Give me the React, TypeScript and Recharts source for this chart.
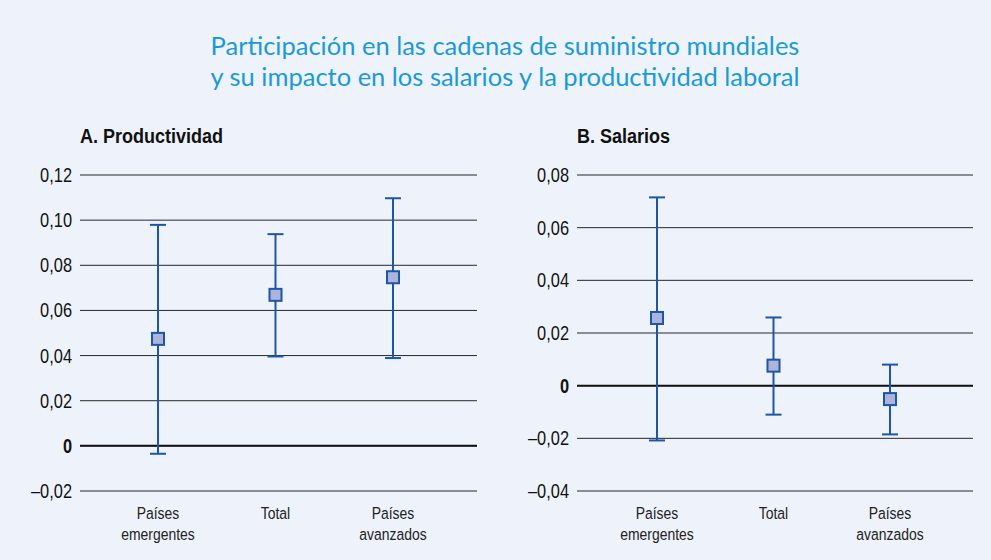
import React from "react";
import {
  CartesianGrid,
  ComposedChart,
  ErrorBar,
  ReferenceLine,
  Scatter,
  XAxis,
  YAxis,
} from "recharts";

const categorias = ["Países\nemergentes", "Total", "Países\navanzados"];

// A. Productividad
const prodPunto = [0.0474, 0.0669, 0.0747];
const prodSup = [0.0979, 0.0938, 0.1097];
const prodInf = [-0.0035, 0.0396, 0.0389];
const prodTicks = [-0.02, 0, 0.02, 0.04, 0.06, 0.08, 0.1, 0.12];

// B. Salarios
const salPunto = [0.0257, 0.0076, -0.0051];
const salSup = [0.0715, 0.0259, 0.008];
const salInf = [-0.0208, -0.011, -0.0185];
const salTicks = [-0.04, -0.02, 0, 0.02, 0.04, 0.06, 0.08];

const BG = "#EEF3FB";
const AZUL = "#1D55A8";
const RELLENO = "#ADB4DC";
const FONT = '"Liberation Sans", Arial, sans-serif';
const NARROW = 0.82; // fuente condensada simulada

function tabla(p: number[], s: number[], i: number[]) {
  return categorias.map((c, k) => ({
    cat: c,
    y: p[k],
    err: [p[k] - i[k], s[k] - p[k]],
  }));
}

function fmtNum(v: number) {
  if (Math.abs(v) < 1e-9) return "0";
  const t = Math.abs(v).toFixed(2).replace(".", ",");
  return v < 0 ? "\u2013" + t : t;
}

const YTick = (props: any) => {
  const { x, y, payload } = props;
  const cero = Math.abs(payload.value) < 1e-9;
  return (
    <g transform={`translate(${x},${y}) scale(${NARROW},1)`}>
      <text
        x={0}
        y={0}
        dy={7}
        textAnchor="end"
        fontFamily={FONT}
        fontSize={20}
        fontWeight={cero ? 700 : 400}
        fill="#111"
      >
        {fmtNum(payload.value)}
      </text>
    </g>
  );
};

const XTick = (props: any) => {
  const { x, y, payload } = props;
  const lineas = String(payload.value).split("\n");
  return (
    <g transform={`translate(${x},${y}) scale(${NARROW},1)`}>
      <text x={0} y={0} textAnchor="middle" fontFamily={FONT} fontSize={17} fill="#222">
        {lineas.map((l, k) => (
          <tspan key={k} x={0} dy={k === 0 ? 26 : 21}>
            {l}
          </tspan>
        ))}
      </text>
    </g>
  );
};

const Cuadro = (props: any) => {
  const { cx, cy } = props;
  return (
    <rect
      x={cx - 6}
      y={cy - 6}
      width={12}
      height={12}
      fill={RELLENO}
      stroke={AZUL}
      strokeWidth={2}
    />
  );
};

function Panel({
  data,
  ticks,
  left,
  width,
  yWidth,
  right,
  padding,
}: {
  data: any[];
  ticks: number[];
  left: number;
  width: number;
  yWidth: number;
  right: number;
  padding: { left: number; right: number };
}) {
  return (
    <div style={{ position: "absolute", left, top: 0 }}>
      <ComposedChart
        width={width}
        height={560}
        data={data}
        margin={{ top: 175, right, bottom: 9, left: 0 }}
      >
        <CartesianGrid horizontal vertical={false} stroke="#262626" strokeWidth={1} />
        <XAxis
          dataKey="cat"
          type="category"
          axisLine={false}
          tickLine={false}
          tickSize={0}
          height={60}
          padding={padding}
          interval={0}
          tick={<XTick />}
        />
        <YAxis
          type="number"
          domain={[ticks[0], ticks[ticks.length - 1]]}
          ticks={ticks}
          width={yWidth}
          axisLine={false}
          tickLine={false}
          tickSize={0}
          tickMargin={8}
          interval={0}
          tick={<YTick />}
        />
        <ReferenceLine y={0} stroke="#111" strokeWidth={2} />
        <Scatter dataKey="y" shape={<Cuadro />} isAnimationActive={false}>
          <ErrorBar dataKey="err" direction="y" width={8} strokeWidth={2} stroke={AZUL} />
        </Scatter>
      </ComposedChart>
    </div>
  );
}

export default function App() {
  const tituloPanel: React.CSSProperties = {
    position: "absolute",
    top: 125,
    fontFamily: FONT,
    fontWeight: 700,
    fontSize: 20,
    color: "#111",
    transform: "scaleX(0.9)",
    transformOrigin: "left top",
    whiteSpace: "nowrap",
  };
  return (
    <div
      style={{
        position: "absolute",
        left: 0,
        top: 0,
        width: 991,
        height: 560,
        background: BG,
        overflow: "hidden",
      }}
    >
      <div
        style={{
          position: "absolute",
          left: 0,
          top: 30,
          width: 1010,
          textAlign: "center",
          fontFamily: "Lato, 'Open Sans', sans-serif",
          fontWeight: 400,
          fontSize: 25.5,
          lineHeight: "31px",
          color: "#1A9AD6",
        }}
      >
        Participación en las cadenas de suministro mundiales
        <br />y su impacto en los salarios y la productividad laboral
      </div>
      <div style={{ ...tituloPanel, left: 80 }}>A. Productividad</div>
      <div style={{ ...tituloPanel, left: 577 }}>B. Salarios</div>
      <Panel
        data={tabla(prodPunto, prodSup, prodInf)}
        ticks={prodTicks}
        left={0}
        width={500}
        yWidth={80}
        right={23}
        padding={{ left: 78, right: 84 }}
      />
      <Panel
        data={tabla(salPunto, salSup, salInf)}
        ticks={salTicks}
        left={500}
        width={491}
        yWidth={77}
        right={18}
        padding={{ left: 80, right: 83 }}
      />
    </div>
  );
}
